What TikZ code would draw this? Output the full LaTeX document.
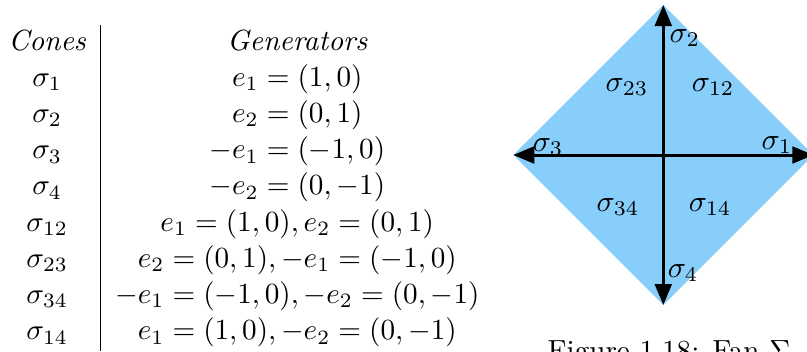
\documentclass[tikz,border=0pt]{standalone}
\usepackage{amsmath,amssymb}
\usetikzlibrary{arrows.meta}
\definecolor{fanblue}{RGB}{135,206,250}

\begin{document}
\begin{tikzpicture}[x=1pt,y=1pt,ray/.style={line width=1pt,-{Triangle[length=7pt,width=5.6pt]}},lab/.style={inner sep=0pt}]
\useasboundingbox(0,0)rectangle(269,-117.33);
\node[anchor=north west,inner sep=0pt,scale=.972,transform shape](tab)at(-2.25,-8.1){\renewcommand{\arraystretch}{1.034}$\begin{array}{c|c}
\textit{Cones} & \textit{Generators}\\
\sigma_1 & e_1=(1,0)\\
\sigma_2 & e_2=(0,1)\\
\sigma_3 & -e_1=(-1,0)\\
\sigma_4 & -e_2=(0,-1)\\
\sigma_{12} & e_1=(1,0),e_2=(0,1)\\
\sigma_{23} & e_2=(0,1),-e_1=(-1,0)\\
\sigma_{34} & -e_1=(-1,0),-e_2=(0,-1)\\
\sigma_{14} & e_1=(1,0),-e_2=(0,-1)
\end{array}$};
\coordinate(o)at(221.1,-51.67);
\coordinate(n)at(221.1,-1.67);\coordinate(s)at(221.1,-101.67);
\coordinate(w)at(171.1,-51.67);\coordinate(e)at(271.1,-51.67);
\fill[fanblue](n)--(e)--(s)--(w)--cycle;
\draw[ray](o)--(e);\draw[ray](o)--(n);\draw[ray](o)--(w);\draw[ray](o)--(s);
\node[lab](s1)at(259,-48.3){$\sigma_1$};\node[lab](s2)at(228.3,-12.7){$\sigma_2$};
\node[lab](s3)at(182.7,-49){$\sigma_3$};\node[lab](s4)at(227.7,-91){$\sigma_4$};
\node[lab](s12)at(237.7,-29){$\sigma_{12}$};\node[lab](s23)at(209,-29){$\sigma_{23}$};
\node[lab](s34)at(206,-69){$\sigma_{34}$};\node[lab](s14)at(236.7,-69){$\sigma_{14}$};
\node[anchor=base,inner sep=0pt,scale=.97](cap)at(223,-120.3){Figure 1.18: Fan $\Sigma$};
\end{tikzpicture}
\end{document}
